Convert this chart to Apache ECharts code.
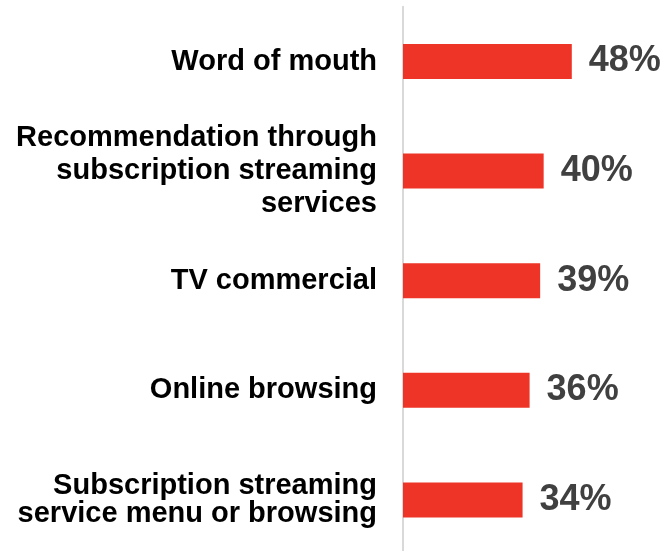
<!DOCTYPE html>
<html>
<head>
<meta charset="utf-8">
<script src="https://cdn.jsdelivr.net/npm/echarts@6/dist/echarts.min.js"></script>
<style>
  html, body { margin: 0; padding: 0; background: #ffffff; }
  #chart { width: 669px; height: 551px; }
</style>
</head>
<body>
<div id="chart"></div>
<script>
// Sources of discovery, share of respondents (%)
const categories = [
  'Word of mouth',
  'Recommendation through\nsubscription streaming\nservices',
  'TV commercial',
  'Online browsing',
  'Subscription streaming\nservice menu or browsing'
];
const shares = [48, 40, 39, 36, 34];

// Three-line labels are set a little looser than two-line ones
const categoryItems = categories.map(function (name) {
  const lines = name.split('\n').length;
  return { value: name, textStyle: { lineHeight: lines > 2 ? 33 : 28.5 } };
});

const chart = echarts.init(document.getElementById('chart'), null, { renderer: 'canvas' });

chart.setOption({
  backgroundColor: '#ffffff',
  animation: false,
  grid: { left: 403, top: 6.7, width: 211, height: 548, outerBoundsMode: 'none' },
  xAxis: {
    type: 'value',
    min: 0,
    max: 60,
    show: false
  },
  yAxis: {
    type: 'category',
    data: categoryItems,
    inverse: true,
    axisLine: { show: true, lineStyle: { color: '#d9d9d9', width: 2 } },
    axisTick: { show: false },
    splitLine: { show: false },
    axisLabel: {
      margin: 26,
      color: '#000000',
      fontFamily: 'Liberation Sans, Arial, sans-serif',
      fontWeight: 'bold',
      fontSize: 29,
      align: 'right'
    }
  },
  series: [{
    type: 'bar',
    data: shares,
    barWidth: 35,
    itemStyle: { color: '#EE3426' },
    label: {
      show: true,
      position: 'right',
      distance: 17,
      formatter: '{c}%',
      color: '#404040',
      fontFamily: 'Liberation Sans, Arial, sans-serif',
      fontWeight: 'bold',
      fontSize: 36
    }
  }]
});
</script>
</body>
</html>
